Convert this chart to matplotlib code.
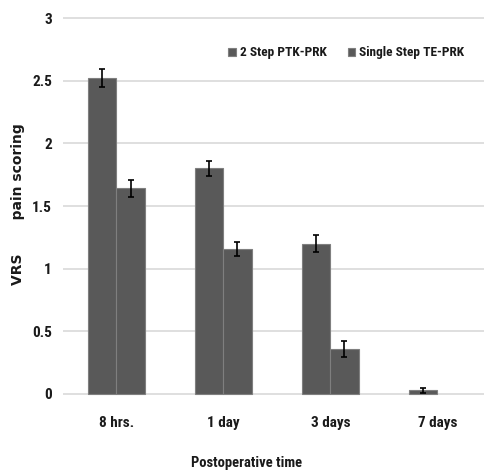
import matplotlib
matplotlib.use("Agg")
import matplotlib.pyplot as plt
import numpy as np
from matplotlib import font_manager

# Data
categories = ["8 hrs.", "1 day", "3 days", "7 days"]
ptk_prk    = [2.52, 1.80, 1.20, 0.03]
te_prk     = [1.64, 1.16, 0.36, 0.0]
ptk_err    = [0.07, 0.06, 0.07, 0.02]
te_err     = [0.065, 0.055, 0.063, 0.0]
y_ticks    = [0, 0.5, 1, 1.5, 2, 2.5, 3]
y_labels   = ["0", "0.5", "1", "1.5", "2", "2.5", "3"]


def weight_num(w):
    if isinstance(w, (int, float)):
        return w
    return font_manager.weight_dict.get(w, 400)


# look for a narrow bold sans (the original uses a Calibri-like face)
narrow_bold = []
for f in font_manager.fontManager.ttflist:
    is_narrow = ("Narrow" in f.name or "Condensed" in f.name
                 or f.stretch in ("condensed", "semi-condensed"))
    if is_narrow and weight_num(f.weight) >= 600:
        narrow_bold.append(f)

face, fsize, stretch = "Liberation Sans", 9.5, "normal"
for pref in ["Liberation Sans Narrow", "Roboto Condensed", "Open Sans Condensed",
             "Noto Sans Condensed", "DejaVu Sans Condensed"]:
    hits = [f for f in narrow_bold if f.name == pref]
    if hits:
        face, fsize, stretch = pref, 10.5, hits[0].stretch
        break
else:
    if narrow_bold:
        f = sorted(narrow_bold, key=lambda f: f.name)[0]
        face, fsize, stretch = f.name, 10.5, f.stretch

W, H = 484, 473
fig = plt.figure(figsize=(W / 100, H / 100), dpi=100)

# axes placed in pixel terms
pad = 0.02 * 125.3
left, right = 63, 484
top, bottom = 18 - pad, 394 + pad
ax = fig.add_axes([left / W, 1 - bottom / H, (right - left) / W, (bottom - top) / H])

x  = np.arange(len(categories))
bw = 0.262

ptk = np.array(ptk_prk)
te  = np.array(te_prk)
ptk_e = np.where(ptk > 0, ptk_err, np.nan)
te_e  = np.where(te > 0, te_err, np.nan)

bar_kw = dict(width=bw, color="#595959", edgecolor="#7f7f7f", linewidth=0.8, zorder=3)
err_kw = dict(ecolor="black", elinewidth=1.2, capsize=2.5, capthick=1.2, zorder=4)

ax.bar(x - bw / 2, ptk, yerr=ptk_e, label="2 Step PTK-PRK", error_kw=err_kw, **bar_kw)
te_bars = ax.bar(x + bw / 2, te, yerr=te_e, label="Single Step TE-PRK", error_kw=err_kw, **bar_kw)
for b, v in zip(te_bars, te):
    if v == 0:
        b.set_linewidth(0)

ax.set_xlim(-0.5, 3.435)
ax.set_ylim(-0.02, 3.02)
ax.set_yticks(y_ticks)
ax.set_yticklabels(y_labels)
ax.set_xticks(x)
ax.set_xticklabels(categories)

for s in ax.spines.values():
    s.set_visible(False)
ax.tick_params(length=0)
ax.tick_params(axis="y", pad=8)
ax.tick_params(axis="x", pad=14)
ax.grid(axis="y", color="#d9d9d9", linewidth=1.2, zorder=0)
ax.set_axisbelow(True)

txt_kw = dict(fontfamily=face, fontweight="bold", fontstretch=stretch, color="#1a1a1a")

for lab in ax.get_xticklabels() + ax.get_yticklabels():
    lab.update(txt_kw)
    lab.set_fontsize(fsize + 0.5)

fig.text(247 / W, 1 - 463 / H, "Postoperative time", ha="center", va="center",
         fontsize=fsize, **txt_kw)
fig.text(18 / W, 1 - 204 / H, "VRS       pain scoring", rotation=90,
         ha="center", va="center", fontfamily="DejaVu Sans", fontweight="bold",
         fontsize=10, color="#1a1a1a")

lsize = fsize - 0.9
leg = ax.legend(loc="upper left", bbox_to_anchor=((223 - left) / (right - left), (bottom - 41) / (bottom - top)),
                ncol=2, frameon=False, handlelength=0.55, handleheight=0.55,
                handletextpad=0.3, columnspacing=1.6, borderaxespad=0,
                prop=font_manager.FontProperties(family=face, weight="bold",
                                                 stretch=stretch, size=lsize))
for t in leg.get_texts():
    t.set_color("#1a1a1a")

fig.savefig("out.png", dpi=100)
